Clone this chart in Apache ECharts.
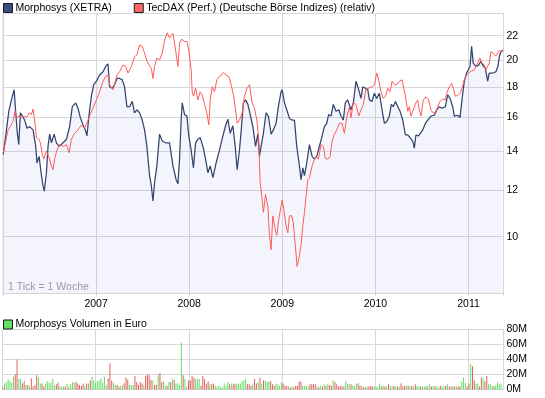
<!DOCTYPE html>
<html><head><meta charset="utf-8">
<script src="https://cdn.jsdelivr.net/npm/echarts@6/dist/echarts.min.js"></script>
<style>html,body{margin:0;padding:0;background:#fff}#c{width:545px;height:398px}</style>
</head><body><div id="c"></div>
<script>
// Price axis labels (log scale) and year labels
const priceTicks = [10, 12, 14, 16, 18, 20, 22];
const priceMin = 8, priceMax = 24;
const yearStart = 2006, yearEnd = 2011.376;
const volTicksMax = 80;

// Morphosys (XETRA): week index since 2 Jan 2006, price
const mWeeks = [0,1.8,3.1,4.6,6.1,7.0,7.9,8.7,9.6,10.7,12.0,13.3,14.8,16.7,18.2,18.9,20.1,21.2,22.3,23.0,24.2,25.1,26.0,27.0,28.5,29.8,31.3,33.5,35.4,37.2,38.7,40.6,41.9,43.2,44.7,46.0,46.9,48.1,49.4,50.7,52.2,54.0,55.9,57.4,58.7,59.6,61.1,62.4,63.7,65.2,66.7,68.0,69.3,70.8,72.3,73.6,74.9,76.4,77.9,79.2,80.5,82.0,83.0,83.9,84.8,86.1,87.6,89.1,91.0,93.2,95.1,96.9,97.9,98.8,99.7,100.3,101.6,102.9,104.0,105.3,106.6,107.8,109.1,110.4,111.9,113.4,114.7,116.0,117.5,119.3,121.2,123.1,124.6,125.9,127.2,128.7,130.0,131.1,132.4,133.3,134.6,135.8,137.1,138.6,139.9,141.4,142.7,143.6,144.5,145.8,147.3,148.6,150.1,151.4,152.9,154.2,155.7,156.3,157.6,158.9,160.4,161.9,163.2,164.5,166.0,166.9,167.9,168.8,170.1,171.6,173.1,174.4,175.7,177.2,178.7,180.0,181.3,182.4,183.7,185.0,186.5,188.0,189.3,190.6,191.7,193.0,193.6,194.9,196.2,197.7,199.2,200.5,201.5,203.0,204.3,205.2,206.7,208.0,209.3,210.8,212.3,213.6,214.9,216.4,217.5,218.6,219.8,221.1,222.4,223.9,225.4,226.7,228.0,229.5,230.4,231.3,232.8,235.1,236.6,237.9,239.7,241.6,242.9,244.4,245.9,247.8,249.1,250.4,251.9,252.8,253.7,254.7,256.0,257.1,258.4,259.7,260.8,261.6,262.5,263.4,264.9,266.4,267.7,268.7,270.2,271.5,272.4,274.3,276.1,277.2,278.0,278.9,279.9];
const mVals = [13.8,15.2,16.35,17.1,17.8,16.25,15.0,14.35,16.25,16.05,15.8,15.3,15.4,15.2,14.25,13.35,13.7,12.85,12.2,11.95,12.85,14.25,14.95,14.45,14.95,14.45,14.25,14.45,14.65,15.4,16.65,16.9,16.55,15.95,15.5,15.2,14.85,16.15,17.35,18.15,18.4,18.85,19.1,19.5,19.7,18.0,17.9,18.15,18.6,18.6,18.5,18.0,16.65,16.65,17.0,16.25,16.45,16.25,15.8,15.2,14.25,12.7,12.2,11.5,12.35,13.2,14.95,14.55,14.45,14.45,13.2,12.5,12.3,13.55,15.8,16.9,16.15,16.05,14.85,14.05,13.1,14.45,14.65,14.75,14.25,13.55,12.85,13.2,12.6,13.35,14.05,14.85,15.45,15.85,15.0,15.45,14.25,13.0,14.05,15.1,16.9,17.1,16.8,16.05,15.4,14.25,14.95,13.7,14.25,15.0,16.25,16.05,14.95,15.2,15.6,16.65,17.65,17.8,16.9,16.45,15.9,15.8,15.8,14.25,13.2,12.5,13.1,12.7,13.35,14.35,13.7,13.55,13.7,14.25,14.85,15.4,15.6,16.15,16.05,16.8,16.35,16.45,16.05,15.8,16.9,17.1,17.2,16.45,16.9,18.4,17.8,17.2,18.0,17.9,17.8,17.1,17.0,17.55,17.2,17.55,16.45,15.6,15.7,16.05,16.8,16.65,17.0,16.65,16.35,15.8,14.9,14.9,14.75,14.55,14.15,14.9,14.85,15.2,15.6,15.8,16.05,16.1,16.45,16.65,16.55,16.65,17.45,17.2,16.65,16.05,15.95,16.1,15.95,17.1,18.4,19.0,19.1,19.5,21.1,19.75,19.5,19.6,19.9,19.6,19.35,18.4,19.0,19.0,19.1,19.5,20.25,20.65,20.8];

// TecDAX (Perf.) relativ: week index, value
const tWeeks = [0,1.4,2.7,4.0,5.5,6.6,7.7,8.9,10.2,11.5,13.0,14.5,15.8,16.7,17.6,18.6,20.1,20.8,21.9,22.7,24.2,26.0,27.0,27.9,28.8,30.1,31.6,33.5,35.4,36.9,38.2,40.0,41.9,43.8,45.6,47.5,48.8,50.3,52.2,54.0,55.9,57.4,58.7,59.6,61.5,62.4,63.7,65.2,67.1,68.6,69.9,71.8,73.6,74.9,76.4,77.9,79.2,80.5,81.6,83.0,83.9,84.8,86.1,87.6,89.1,90.4,91.9,93.2,95.1,96.0,96.6,97.9,98.8,100.1,101.6,102.9,104.0,105.3,105.9,106.6,107.8,109.1,110.4,111.5,112.8,114.1,115.2,116.0,117.1,118.4,119.7,121.2,122.5,123.4,124.9,126.4,127.7,129.0,130.2,131.1,132.4,133.9,135.2,136.7,138.0,139.5,140.8,142.1,143.2,144.0,144.9,145.8,147.0,148.3,149.2,150.1,151.1,152.4,153.3,154.4,155.7,156.3,157.2,158.5,159.5,160.4,161.7,162.6,163.7,164.7,165.6,166.9,167.9,168.8,169.7,170.7,171.6,173.1,174.4,175.3,176.6,178.1,179.4,180.5,181.9,183.2,184.3,185.6,186.9,188.4,189.9,191.2,192.5,194.0,194.9,196.2,197.7,199.2,200.5,201.8,203.3,204.8,206.7,208.0,209.3,210.4,211.7,213.0,214.2,215.5,216.8,217.9,219.2,220.5,222.0,223.5,224.2,225.4,226.7,227.6,228.5,229.8,231.3,232.3,233.2,234.1,235.4,236.9,238.4,239.7,241.0,242.5,243.5,244.8,246.3,247.8,248.5,250.0,251.3,252.2,253.4,254.7,256.0,257.1,258.4,259.7,261.2,262.5,264.0,265.3,266.4,267.2,268.3,269.6,270.5,271.5,272.4,273.3,274.6,276.1,277.1,278.0,279.0,279.9];
const tVals = [13.9,14.55,15.2,15.4,15.7,16.35,15.95,16.05,15.95,16.05,15.95,16.25,16.15,16.5,15.8,14.75,14.65,14.45,13.8,13.55,14.0,13.55,13.2,13.0,13.55,14.05,14.35,14.25,14.35,13.9,14.65,15.0,15.2,15.5,15.3,15.8,16.15,16.55,17.1,17.65,18.4,18.75,18.85,18.15,17.8,18.15,18.85,19.1,19.6,19.5,19.0,19.5,20.25,20.4,21.2,21.1,20.55,19.9,19.75,19.35,18.6,19.5,20.15,20.0,20.55,21.6,22.25,21.8,22.2,22.25,20.8,19.5,21.35,21.7,21.5,21.5,20.8,19.25,17.65,17.35,17.9,17.1,17.65,17.45,16.8,16.25,15.5,17.1,18.0,17.65,18.5,18.75,18.85,19.05,18.85,18.75,18.15,17.45,16.45,15.6,15.8,16.25,17.35,17.9,18.15,16.9,16.55,15.8,14.65,12.35,11.7,11.0,11.8,11.25,10.05,9.5,10.85,10.3,10.05,10.7,11.25,11.55,11.15,10.45,10.15,10.85,10.85,10.55,9.65,8.9,9.15,9.65,10.45,11.0,11.7,12.5,12.6,13.2,13.55,13.7,13.55,14.35,14.25,13.6,13.55,13.7,14.55,14.95,15.2,15.6,15.6,15.0,15.95,16.65,15.95,16.9,16.8,16.05,16.45,16.8,17.9,17.9,18.0,18.15,19.0,18.5,17.65,17.2,17.35,17.9,17.65,18.4,18.15,18.15,18.4,18.5,18.45,17.35,16.35,16.65,16.05,16.45,16.9,17.1,16.45,16.05,17.1,17.3,17.1,16.45,16.25,16.25,16.65,17.0,17.15,17.1,17.55,18.0,18.25,17.9,17.35,17.4,17.55,17.9,18.5,18.85,19.05,19.15,19.25,19.6,19.75,20.15,19.75,19.6,19.25,19.1,19.75,20.65,20.55,20.3,20.55,20.75,20.6,20.65];

// Morphosys weekly volume in million euro (weeks 0..279) and up(1)/down(0) week
const volMio = [3,8,10,14,11,9,17,20,40,14,14,8,11,6,6,4,15,4,6,19,16,8,8,4,8,11,9,9,14,6,7,9,4,4,4,4,7,3,7,10,9,10,8,6,5,8,5,8,8,12,17,12,8,11,12,15,9,17,6,15,35,12,9,6,6,4,5,6,8,16,13,6,6,6,18,10,6,10,8,6,18,20,19,13,12,6,6,19,22,10,11,5,5,10,10,15,13,8,8,6,62,19,14,3,12,
12,18,16,14,14,14,5,18,14,8,11,7,7,8,5,4,5,3,3,8,5,10,7,8,7,8,7,8,8,11,12,14,7,7,5,7,14,8,10,16,8,12,12,10,11,11,7,5,8,7,5,10,8,5,5,4,3,4,3,5,5,11,10,5,5,5,4,7,7,7,7,4,3,5,4,7,5,8,6,5,12,10,7,4,5,4,4,11,8,7,7,5,5,8,8,5,5,3,3,4,
4,5,4,4,4,3,8,4,5,4,4,7,5,4,5,4,4,4,8,4,5,5,5,4,5,4,7,5,4,4,4,4,4,5,7,4,5,4,5,3,5,4,4,5,7,4,4,5,4,4,4,4,11,16,9,4,8,34,31,12,8,8,4,16,15,11,18,7,7,5,4,5,10,7,8];
const volUp = [0,1,1,1,1,1,1,0,0,1,1,0,0,1,0,1,0,0,0,0,1,1,0,0,1,1,1,1,1,1,0,0,1,1,1,0,1,0,1,1,1,0,0,0,0,0,1,0,1,0,1,1,1,1,1,1,1,1,1,0,0,0,1,1,0,0,1,1,0,0,0,1,1,1,0,0,0,0,0,1,0,0,0,0,1,0,0,1,0,0,1,1,0,1,0,1,0,1,1,1,1,0,1,0,0,
0,0,0,1,1,1,0,0,0,0,0,1,0,0,1,1,1,1,1,1,1,1,0,1,0,0,1,1,1,1,1,1,0,0,0,1,0,0,1,0,1,0,1,1,1,0,0,0,1,1,1,1,0,0,0,1,0,1,0,0,0,0,0,1,1,1,1,0,0,0,0,1,0,1,0,1,0,1,0,0,1,0,0,0,0,0,0,1,1,1,0,1,1,1,0,0,1,0,0,1,
0,0,0,1,1,1,1,0,1,0,1,0,1,1,0,1,0,1,0,0,0,1,0,1,0,1,0,1,1,0,1,1,0,1,1,0,1,0,1,1,0,1,1,0,1,0,0,1,0,1,0,0,1,1,1,0,0,1,0,0,1,1,0,0,1,0,0,1,1,1,0,1,1,1,1];

const FONT = '"Liberation Sans", Arial, sans-serif';
const FS = 10.5;
const NAVY = '#34446f', RED = '#ff5b5b', GREEN = '#66dd66', BAR_RED = '#e06060';
const GRID_C = '#d8d8d8';

function toYear(w) { return yearStart + (w * 7 + 1) / 365.25; }
const lnTicks = priceTicks.map(v => Math.log(v));
const mData = mWeeks.map((w, i) => [toYear(w), Math.log(mVals[i])]);
const tData = tWeeks.map((w, i) => [toYear(w), Math.log(tVals[i])]);
const vData = volMio.map((v, i) => ({ value: [toYear(i), v], itemStyle: { color: volUp[i] ? GREEN : BAR_RED } }));

const NAME_M = 'Morphosys (XETRA)';
const NAME_T = 'TecDAX (Perf.) (Deutsche Börse Indizes) (relativ)';
const NAME_V = 'Morphosys Volumen in Euro';

const chart = echarts.init(document.getElementById('c'), null, { renderer: 'canvas' });
const xCommon = {
  type: 'value', min: yearStart, max: yearEnd, interval: 1,
  axisLine: { show: false },
  splitLine: { show: true, lineStyle: { color: GRID_C, width: 1 } }
};
chart.setOption({
  animation: false,
  textStyle: { fontFamily: FONT },
  legend: [
    { left: 3, top: 2.5, padding: 0, itemGap: 22, itemWidth: 9, itemHeight: 9, icon: 'rect',
      selectedMode: false,
      textStyle: { fontFamily: FONT, fontSize: FS, color: '#000', padding: [0, 0, 0, -2] },
      data: [
        { name: NAME_M, itemStyle: { color: '#3d4f80', borderColor: '#1a1a1a', borderWidth: 1 } },
        { name: NAME_T, itemStyle: { color: '#ff6464', borderColor: '#1a1a1a', borderWidth: 1 } }
      ] },
    { left: 3, top: 319, padding: 0, itemWidth: 9, itemHeight: 9, icon: 'rect', selectedMode: false,
      textStyle: { fontFamily: FONT, fontSize: FS, color: '#000', padding: [0, 0, 0, -2] },
      data: [{ name: NAME_V, itemStyle: { color: GREEN, borderColor: '#1a1a1a', borderWidth: 1 } }] }
  ],
  grid: [
    { left: 2.5, top: 13.5, width: 501, height: 280, show: true, borderColor: GRID_C, borderWidth: 1, backgroundColor: 'transparent' },
    { left: 2.5, top: 329.5, width: 501, height: 60 }
  ],
  xAxis: [
    Object.assign({}, xCommon, {
      gridIndex: 0,
      axisTick: { show: true, length: 3, lineStyle: { color: GRID_C } },
      axisLabel: { show: true, margin: 5, fontFamily: FONT, fontSize: FS, color: '#000',
        formatter: v => (Math.abs(v - Math.round(v)) < 1e-6 && Math.round(v) > yearStart) ? String(Math.round(v)) : '' }
    }),
    Object.assign({}, xCommon, {
      gridIndex: 1, axisTick: { show: false }, axisLabel: { show: false }
    })
  ],
  yAxis: [
    { type: 'value', gridIndex: 0, position: 'right', min: Math.log(priceMin), max: Math.log(priceMax),
      axisLine: { show: false },
      axisTick: { show: false, customValues: lnTicks },
      axisLabel: { show: true, customValues: lnTicks, margin: 3, fontFamily: FONT, fontSize: FS, color: '#000',
        formatter: v => String(Math.round(Math.exp(v))) },
      splitLine: { show: true, lineStyle: { color: GRID_C, width: 1 } } },
    { type: 'value', gridIndex: 1, position: 'right', min: 0, max: volTicksMax, interval: 20,
      axisLine: { show: true, lineStyle: { color: GRID_C } },
      axisTick: { show: false },
      axisLabel: { show: true, margin: 3, fontFamily: FONT, fontSize: FS, color: '#000', formatter: v => v + 'M' },
      splitLine: { show: true, lineStyle: { color: GRID_C, width: 1 } } }
  ],
  graphic: [
    { type: 'text', left: 8, top: 282, silent: true,
      style: { text: '1 Tick = 1 Woche', fill: '#a0a0a0', font: FS + 'px ' + FONT } }
  ],
  series: [
    { name: NAME_M, type: 'line', xAxisIndex: 0, yAxisIndex: 0, data: mData, showSymbol: false, silent: true,
      color: '#3d4f80', z: 3,
      lineStyle: { color: NAVY, width: 1.25 },
      areaStyle: { origin: 'start', color: 'rgba(60,90,200,0.085)' } },
    { name: NAME_T, type: 'line', xAxisIndex: 0, yAxisIndex: 0, data: tData, showSymbol: false, silent: true,
      color: '#ff6464', z: 4,
      lineStyle: { color: RED, width: 1 } },
    { name: NAME_V, type: 'bar', xAxisIndex: 1, yAxisIndex: 1, data: vData, barWidth: 1, silent: true,
      color: GREEN }
  ]
});
</script>
</body></html>
